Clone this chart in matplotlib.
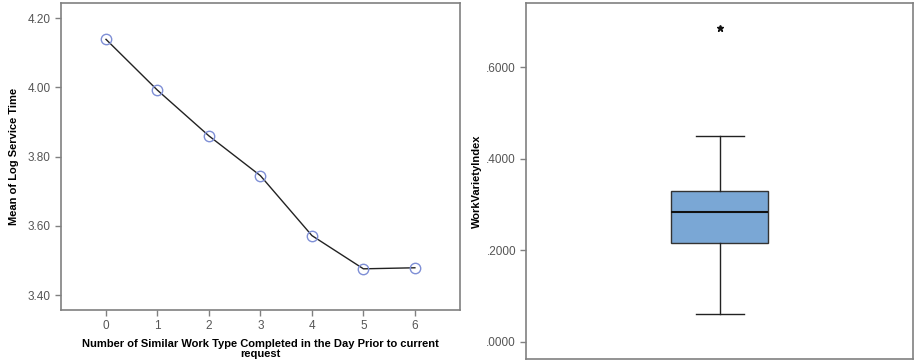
import matplotlib.pyplot as plt
import numpy as np

plt.rcParams['font.family'] = ['Liberation Sans', 'DejaVu Sans']

# left panel: mean of log service time by count of similar work
counts = [0, 1, 2, 3, 4, 5, 6]
mean_log_time = [4.139, 3.992, 3.860, 3.745, 3.572, 3.476, 3.479]
left_yticks = [3.40, 3.60, 3.80, 4.00, 4.20]

# right panel: boxplot summary of WorkVarietyIndex
wvi_q1 = 0.216
wvi_median = 0.283
wvi_q3 = 0.330
wvi_whislo = 0.0605
wvi_whishi = 0.449
wvi_outliers = [0.685]
right_yticks = [0.0, 0.2, 0.4, 0.6]

spine_col = '#808080'
tick_col = '#555555'

fig = plt.figure(figsize=(9.14, 3.63), dpi=100)
ax1 = fig.add_axes([0.0667, 0.146, 0.4365, 0.8457])
ax2 = fig.add_axes([0.576, 0.011, 0.4229, 0.9807])

ax1.plot(counts, mean_log_time, color='#222222', lw=1.0, zorder=2)
ax1.plot(counts, mean_log_time, ls='none', marker='o', ms=7.5, mfc='none',
         mec='#7f8fd6', mew=1.0, zorder=3)
ax1.set_xlim(-0.875, 6.875)
ax1.set_ylim(3.357, 4.244)
ax1.set_xticks(counts)
ax1.set_yticks(left_yticks)
ax1.set_yticklabels([f'{v:.2f}' for v in left_yticks])
ax1.set_xlabel('Number of Similar Work Type Completed in the Day Prior to current\nrequest',
               fontsize=8, fontweight='bold', labelpad=5, linespacing=0.95)
ax1.set_ylabel('Mean of Log Service Time', fontsize=8, fontweight='bold', labelpad=6)

stats = [dict(med=wvi_median, q1=wvi_q1, q3=wvi_q3, whislo=wvi_whislo,
              whishi=wvi_whishi, fliers=wvi_outliers)]
ax2.bxp(stats, positions=[1], widths=0.5, patch_artist=True, showfliers=False,
        boxprops=dict(facecolor='#7aa7d5', edgecolor='#333333', lw=1.0),
        medianprops=dict(color='#111111', lw=1.5),
        whiskerprops=dict(color='#222222', lw=1.0),
        capprops=dict(color='#222222', lw=1.0), capwidths=0.25)
ax2.plot([1] * len(wvi_outliers), wvi_outliers, ls='none', marker='*', ms=5,
         color='#111111')
ax2.set_xlim(0, 2)
ax2.set_ylim(-0.0378, 0.740)
ax2.set_xticks([])
ax2.set_yticks(right_yticks)
ax2.set_yticklabels([f'{v:.4f}'.lstrip('0') for v in right_yticks])
ax2.set_ylabel('WorkVarietyIndex', fontsize=8, fontweight='bold', labelpad=3)

for ax in (ax1, ax2):
    for s in ax.spines.values():
        s.set_color(spine_col)
        s.set_linewidth(1.2)
    ax.tick_params(colors=spine_col, labelcolor=tick_col, labelsize=8.5,
                   length=4, width=1)

fig.savefig('out.png', dpi=100)
